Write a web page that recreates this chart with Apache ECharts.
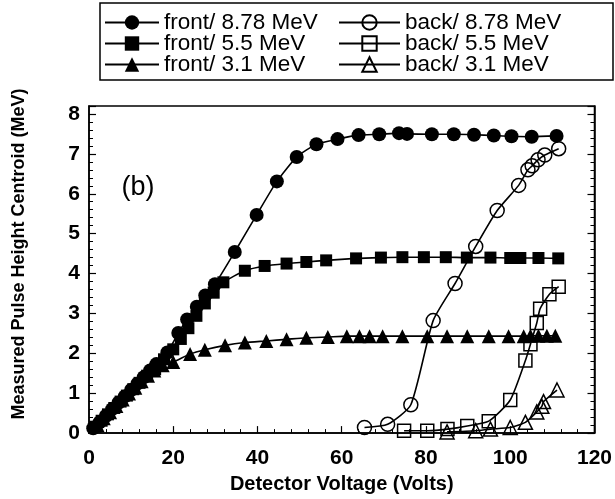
<!DOCTYPE html>
<html><head><meta charset="utf-8">
<script src="https://cdn.jsdelivr.net/npm/echarts@6/dist/echarts.min.js"></script>
<style>html,body{margin:0;padding:0;background:#fff}#c{width:615px;height:499px}</style>
</head><body><div id="c"></div>
<script>
const xTickLabels = [0, 20, 40, 60, 80, 100, 120];
const yTickLabels = [0, 1, 2, 3, 4, 5, 6, 7, 8];
const seriesNames = ['front/ 8.78 MeV', 'front/ 5.5 MeV', 'front/ 3.1 MeV', 'back/ 8.78 MeV', 'back/ 5.5 MeV', 'back/ 3.1 MeV'];
const xTitle = 'Detector Voltage (Volts)';
const yTitle = 'Measured Pulse Height Centroid (MeV)';

const frontHighX = [1,2.5,4,5.5,7,8.5,10,11.5,13,14.5,16,18.6,21.2,23.3,25.6,27.6,29.9,34.6,39.8,44.6,49.3,54,59,64,68.9,73.6,75.5,81.4,86.6,91.4,96.1,100.3,105.1,111];
const frontHighY = [0.12,0.27,0.43,0.6,0.76,0.92,1.08,1.24,1.4,1.57,1.73,2.02,2.51,2.85,3.17,3.45,3.73,4.54,5.47,6.31,6.92,7.24,7.37,7.47,7.49,7.52,7.5,7.49,7.49,7.48,7.46,7.44,7.43,7.45];

const frontMidX = [1.5,3,4.5,6,7.5,9,10.5,12,13.8,15.7,17.8,20,21.8,23.6,25.5,27.5,29.6,31.9,37,41.7,46.9,51.6,56.3,63.4,69.3,74.4,79.5,84.7,89.7,95.3,100,102.4,106.7,111.4];
const frontMidY = [0.16,0.31,0.47,0.63,0.79,0.94,1.1,1.26,1.44,1.6,1.85,2.1,2.36,2.63,2.94,3.25,3.52,3.78,4.07,4.19,4.25,4.29,4.33,4.38,4.4,4.41,4.41,4.41,4.4,4.4,4.39,4.39,4.39,4.38];

const frontLowX = [2,3.5,5,6.5,8,9.5,11,12.5,14,15.5,17.5,20,24,27.5,32.3,37,42.1,46.9,51.6,56.7,61.2,64.2,66.6,69.7,74.4,80.3,85,89.8,94.9,99.6,103.2,104.8,106.7,108.7,110.7];
const frontLowY = [0.2,0.37,0.52,0.68,0.84,0.99,1.14,1.3,1.44,1.57,1.7,1.78,1.98,2.09,2.2,2.27,2.31,2.35,2.39,2.41,2.43,2.43,2.43,2.43,2.43,2.43,2.43,2.43,2.43,2.43,2.43,2.44,2.44,2.44,2.44];

const backHighX = [65.4,70.9,76.4,81.7,86.9,91.8,96.9,102,104.2,105.2,106.6,108.2,111.5];
const backHighY = [0.14,0.22,0.71,2.82,3.75,4.68,5.58,6.21,6.6,6.7,6.85,6.97,7.13];

const backMidX = [74.8,80.3,85.1,89.8,94.9,100,103.6,104.8,106.3,107.1,109.3,111.5];
const backMidY = [0.06,0.06,0.1,0.18,0.3,0.83,1.82,2.23,2.76,3.12,3.48,3.67];

const backLowX = [85,91.8,95.3,100,103.6,106.3,107.5,107.9,111.1];
const backLowY = [0.03,0.06,0.1,0.14,0.27,0.53,0.67,0.79,1.08];

const pairs = (xs, ys) => xs.map((x, i) => [x, ys[i]]);
const FONT = 'Liberation Sans, Arial, sans-serif';

function mk(name, xs, ys, symbol, size, open) {
  return {
    name, type: 'line', data: pairs(xs, ys), symbol, symbolSize: size,
    smooth: 0.2, showSymbol: true,
    lineStyle: { color: '#000', width: 1.6 },
    itemStyle: open ? { color: 'rgba(255,255,255,0)', borderColor: '#000', borderWidth: 1.5 }
                    : { color: '#000', borderColor: '#000', borderWidth: 0 },
    emphasis: { disabled: true },
    z: open ? 3 : 2
  };
}

const chart = echarts.init(document.getElementById('c'), null, { renderer: 'canvas' });
const axisTextStyle = { fontFamily: FONT, fontWeight: 'bold', color: '#000' };
const tickFmt = v => (Math.abs(v - Math.round(v)) < 1e-9 ? String(Math.round(v)) : '');
const legendText = { fontFamily: FONT, fontSize: 22.5, color: '#000', lineHeight: 18 };
chart.setOption({
  animation: false,
  backgroundColor: '#fff',
  grid: { left: 89, right: 18, top: 106, bottom: 56, show: true, borderColor: '#000', borderWidth: 1.5, backgroundColor: 'transparent' },
  legend: [
    { data: seriesNames.slice(0, 3), orient: 'vertical', left: 104, top: 11, padding: 0,
      itemWidth: 54, itemHeight: 18, itemGap: -2, selectedMode: false, textStyle: legendText },
    { data: seriesNames.slice(3), orient: 'vertical', left: 338, top: 11, padding: 0,
      itemWidth: 61, itemHeight: 18, itemGap: -2, selectedMode: false, textStyle: legendText }
  ],
  graphic: [
    { type: 'rect', shape: { x: 100, y: 3, width: 513, height: 77 }, style: { fill: 'none', stroke: '#000', lineWidth: 1.5 }, z: 10 },
    { type: 'text', x: 138, y: 188, style: { text: '(b)', font: '27px ' + FONT, fill: '#000', align: 'center', verticalAlign: 'middle' }, z: 10 },
    { type: 'text', x: 19, y: 254, rotation: Math.PI / 2, style: { text: yTitle, font: 'bold 18px ' + FONT, fill: '#000', align: 'center', verticalAlign: 'middle' }, z: 10 }
  ],
  xAxis: [{
    type: 'value', min: xTickLabels[0], max: xTickLabels[xTickLabels.length - 1], interval: 20,
    axisLine: { show: true, lineStyle: { color: '#000', width: 1.5 } },
    axisTick: { show: true, inside: true, length: 7, lineStyle: { color: '#000', width: 1.2 } },
    minorTick: { show: true, splitNumber: 5, length: 4, lineStyle: { color: '#000', width: 1 } },
    splitLine: { show: false },
    axisLabel: Object.assign({ fontSize: 21, margin: 15 }, axisTextStyle),
    name: xTitle, nameLocation: 'middle', nameGap: 35,
    nameTextStyle: Object.assign({ fontSize: 20 }, axisTextStyle)
  }],
  yAxis: [{
    type: 'value', min: yTickLabels[0], max: 8.2, interval: 1,
    axisLine: { show: true, lineStyle: { color: '#000', width: 1.5 } },
    axisTick: { show: true, inside: true, length: 7, lineStyle: { color: '#000', width: 1.2 } },
    minorTick: { show: true, splitNumber: 5, length: 4, lineStyle: { color: '#000', width: 1 } },
    splitLine: { show: false },
    axisLabel: Object.assign({ fontSize: 21, margin: 9, formatter: tickFmt, showMaxLabel: false }, axisTextStyle)
  }, {
    type: 'value', position: 'right', min: yTickLabels[0], max: 8.2, interval: 1,
    axisLine: { show: true, lineStyle: { color: '#000', width: 1.5 } },
    axisTick: { show: true, inside: true, length: 7, lineStyle: { color: '#000', width: 1.2 } },
    minorTick: { show: true, splitNumber: 5, length: 4, lineStyle: { color: '#000', width: 1 } },
    splitLine: { show: false }, axisLabel: { show: false }
  }],
  series: [
    mk(seriesNames[0], frontHighX, frontHighY, 'circle', 14, false),
    mk(seriesNames[1], frontMidX, frontMidY, 'rect', 12, false),
    mk(seriesNames[2], frontLowX, frontLowY, 'triangle', 14, false),
    mk(seriesNames[3], backHighX, backHighY, 'circle', 14, true),
    mk(seriesNames[4], backMidX, backMidY, 'rect', 13, true),
    mk(seriesNames[5], backLowX, backLowY, 'triangle', 14, true)
  ]
});
</script></body></html>
